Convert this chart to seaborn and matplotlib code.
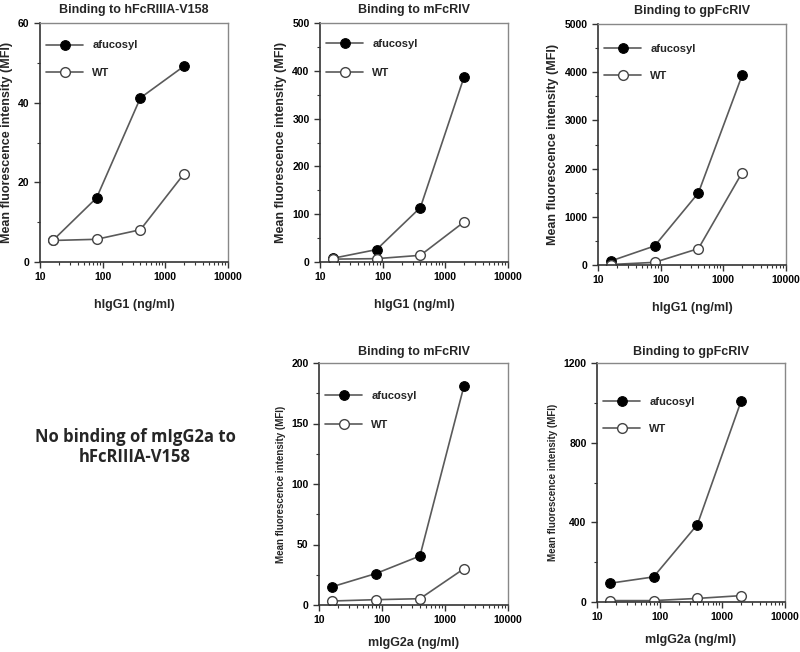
import matplotlib
matplotlib.use("Agg")
import matplotlib.pyplot as plt
import seaborn as sns
import numpy as np
from matplotlib.ticker import MultipleLocator, LogLocator, NullFormatter, FixedLocator

sns.set_theme(style="white")
plt.rcParams['font.family'] = ['Liberation Sans', 'DejaVu Sans']
plt.rcParams['font.weight'] = 'bold'

# data
conc = [16, 80, 400, 2000]
h_v158_afu = [5.4, 16.1, 41.2, 49.2]
h_v158_wt = [5.4, 5.7, 8.1, 22.2]
h_mfc_afu = [7.7, 26, 114, 388]
h_mfc_wt = [6, 7, 14, 84]
h_gp_afu = [83, 395, 1496, 3940]
h_gp_wt = [10, 55, 340, 1918]
m_mfc_afu = [15, 26, 40.5, 181]
m_mfc_wt = [3.3, 4.4, 5.2, 30]
m_gp_afu = [94, 126, 389, 1010]
m_gp_wt = [7, 7, 18, 32]

titles = ["Binding to hFcRIIIA-V158", "Binding to mFcRIV", "Binding to gpFcRIV",
          "Binding to mFcRIV", "Binding to gpFcRIV"]
xlabels = ["hIgG1 (ng/ml)"] * 3 + ["mIgG2a (ng/ml)"] * 2
ylabel = "Mean fluorescence intensity (MFI)"
series_labels = ["afucosyl", "WT"]
note = "No binding of mIgG2a to\nhFcRIIIA-V158"

W, H = 800, 652
fig = plt.figure(figsize=(8, 6.52), dpi=100)

def rect(l, r, t, b):
    return [l / W, 1 - b / H, (r - l) / W, (b - t) / H]

panels = [
    dict(rect=rect(40, 228, 23, 262), afu=h_v158_afu, wt=h_v158_wt, ymax=60, major=20, minor=10,
         leg_y=0.927, ls=1.57, ylfs=9, xlpad=12, tpad=7),
    dict(rect=rect(320, 508, 23, 262), afu=h_mfc_afu, wt=h_mfc_wt, ymax=500, major=100, minor=50,
         leg_y=0.932, ls=1.7, ylfs=9, xlpad=12, tpad=7),
    dict(rect=rect(598, 786, 24, 265), afu=h_gp_afu, wt=h_gp_wt, ymax=5000, major=1000, minor=500,
         leg_y=0.918, ls=1.55, ylfs=9, xlpad=12, tpad=7),
    dict(rect=rect(319, 508, 363, 605), afu=m_mfc_afu, wt=m_mfc_wt, ymax=200, major=50, minor=25,
         leg_y=0.883, ls=1.7, ylfs=7, xlpad=8, tpad=6),
    dict(rect=rect(597, 785, 363, 602), afu=m_gp_afu, wt=m_gp_wt, ymax=1200, major=400, minor=200,
         leg_y=0.858, ls=1.55, ylfs=7, xlpad=8, tpad=6),
]

line_c = "#5a5a5a"
for i, p in enumerate(panels):
    ax = fig.add_axes(p["rect"])
    sns.lineplot(x=conc, y=p["afu"], ax=ax, color=line_c, lw=1.2, marker="o", ms=7,
                 markerfacecolor="black", markeredgecolor="black", label=series_labels[0])
    sns.lineplot(x=conc, y=p["wt"], ax=ax, color=line_c, lw=1.2, marker="o", ms=7,
                 markerfacecolor="white", markeredgecolor="#444444", mew=1.0, label=series_labels[1])
    ax.set_xscale("log")
    ax.set_xlim(10, 10000)
    ax.set_ylim(0, p["ymax"])
    ax.xaxis.set_major_locator(FixedLocator([10, 100, 1000, 10000]))
    ax.set_xticklabels(["10", "100", "1000", "10000"])
    ax.xaxis.set_minor_locator(LogLocator(base=10, subs=np.arange(2, 10), numticks=20))
    ax.xaxis.set_minor_formatter(NullFormatter())
    ax.yaxis.set_major_locator(MultipleLocator(p["major"]))
    ax.yaxis.set_minor_locator(MultipleLocator(p["minor"]))
    ax.tick_params(axis="both", which="major", direction="out", length=4, width=1,
                   colors="#333333", labelsize=7.5, labelcolor="black", pad=3.5,
                   bottom=True, left=True)
    ax.tick_params(axis="both", which="minor", direction="out", length=2.5, width=0.8,
                   colors="#333333", bottom=True, left=True)
    for lab in ax.get_xticklabels() + ax.get_yticklabels():
        lab.set_fontweight("bold")
    for s in ["left", "bottom"]:
        ax.spines[s].set_color("#333333")
        ax.spines[s].set_linewidth(1.2)
    for s in ["top", "right"]:
        ax.spines[s].set_color("#888888")
        ax.spines[s].set_linewidth(1.0)
    ax.set_title(titles[i], fontsize=9, fontweight="bold", pad=p["tpad"])
    ax.set_xlabel(xlabels[i], fontsize=9, fontweight="bold", labelpad=p["xlpad"])
    ax.set_ylabel(ylabel, fontsize=p["ylfs"], fontweight="bold", labelpad=4)
    leg = ax.legend(loc="upper left", bbox_to_anchor=(0.03, p["leg_y"]), frameon=False,
                    handlelength=3.4, handletextpad=0.8, labelspacing=p["ls"], borderaxespad=0,
                    borderpad=0, prop=dict(size=8, weight="bold"))

fig.text(135 / W, 1 - 447 / H, note, ha="center", va="center", fontsize=12,
         fontweight="bold", family=["Open Sans", "DejaVu Sans"], linespacing=1.12)

fig.savefig("out.png", dpi=100)
